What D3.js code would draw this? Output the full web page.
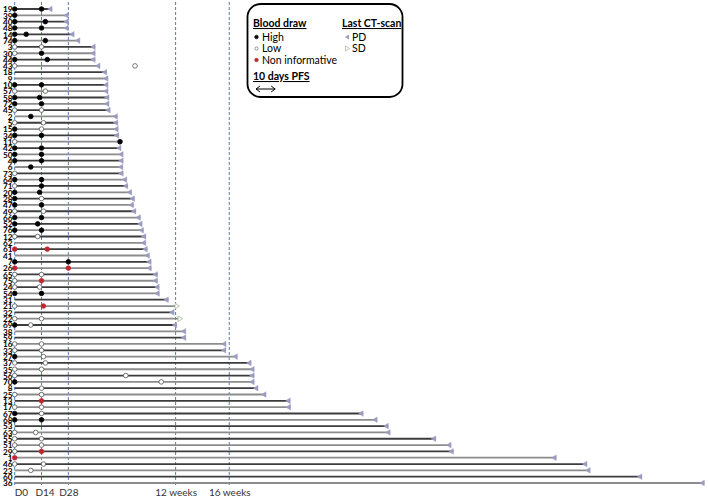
<!DOCTYPE html>
<html>
<head>
<meta charset="utf-8">
<script src="https://cdn.jsdelivr.net/npm/d3@7"></script>
<style>
  html, body { margin: 0; padding: 0; background: #fff; }
  svg { display: block; font-family: Lato, "Open Sans", sans-serif; }
</style>
</head>
<body>
<svg id="chart" width="708" height="498"></svg>
<script>
// ---- data ----
const patients = ["19","39","40","48","14","74","3","30","44","43","18","9","10","57","58","72","45","2","5","15","34","11","42","50","4","6","73","64","71","20","28","47","49","66","52","76","12","62","61","41","7","26","65","75","24","54","31","21","32","22","69","38","59","16","33","27","37","35","56","70","8","25","13","17","67","68","53","63","55","51","29","1","46","23","60","36"];
const pfsDays = [19.5,28,28,28,31,34,42,42,42,44.5,48,48.7,48.7,48.7,49.2,49.2,49.8,53.6,53.8,54,54.3,55,55.5,56.6,56.6,56.4,56.6,58.5,59,61,62.5,62,63.2,65.6,66.5,67.2,68.4,68.4,69.2,70.3,71.2,71.3,74.5,74.5,75.4,75.5,80.2,84.2,83.2,85.8,84.6,89.3,89.3,110.3,110.2,116.2,123.4,125,125,125,127,131.2,143.8,144,181.9,189.2,195,196,219.8,227.8,229,282.7,298.7,300.4,327.4,360];
const ctScan = patients.map(p => (p === "21" || p === "22") ? "SD" : "PD");
// blood draw at D0: H = high, L = low, N = non informative, "" = none
const drawD0 = ["H","H","H","H","H","H","L","L","H","L","","","H","L","H","H","L","","L","H","H","L","H","H","H","","L","H","L","H","H","H","L","H","H","H","L","","N","","H","N","L","L","L","H","","L","","L","H","","","L","L","H","L","L","L","H","","L","","L","H","H","","L","L","L","L","N","L","","",""];
// second blood draw: day and result
const draw2Day = [14,null,16,14,6,16,14,14,17,null,null,null,14,16,13,14,14,8.4,15,14,14,null,14,14,14,8.4,null,14,14,13,14,14,15,14,12,14,12,null,17,null,28,28,14,14,13,14,null,15,null,14,8.4,null,null,14,14,15,16,14,null,null,14,14,14,14,14,14,null,11,14,14,14,null,15,8.4,null,null];
const draw2Type = ["H","","H","H","H","H","L","H","H","","","","H","L","H","H","L","H","L","L","H","","H","H","H","H","","H","H","H","L","H","L","H","H","H","L","","N","","H","N","L","N","L","H","","N","","L","L","","","L","L","L","L","L","","","L","L","N","L","L","H","","L","L","L","N","","L","L","",""];
const extraDraws = [
  {p: "43", day: 62.8, type: "L"},
  {p: "11", day: 55, type: "H"},
  {p: "56", day: 58, type: "L"},
  {p: "70", day: 76.5, type: "L"}
];
const refDays = [0, 14, 28, 84, 112];
const refLabels = ["D0", "D14", "D28", "12 weeks", "16 weeks"];

// ---- build ----
const svg = d3.select("#chart");
const x = d3.scaleLinear().domain([0, 360]).range([14.7, 704.3]);
const y = d3.scalePoint().domain(patients).range([9, 483]);

const fillFor = t => t === "H" ? "#000" : t === "N" ? "#c0272d" : "#fff";
const strokeFor = t => t === "H" ? "#000" : t === "N" ? "#c0272d" : "#555";

// reference lines
svg.append("g").selectAll("line").data(refDays).join("line")
  .attr("x1", d => x(d)).attr("x2", d => x(d))
  .attr("y1", 2).attr("y2", 487)
  .attr("stroke", "#5a7bb0").attr("stroke-width", 1)
  .attr("stroke-dasharray", "3,2");

// bars
const rows = patients.map((p, i) => ({
  p, i, end: pfsDays[i], ct: ctScan[i], d0: drawD0[i], d2: draw2Day[i], t2: draw2Type[i]
}));

svg.append("g").selectAll("line").data(rows).join("line")
  .attr("x1", x(0)).attr("x2", d => x(d.end))
  .attr("y1", d => y(d.p)).attr("y2", d => y(d.p))
  .attr("stroke", d => d.i % 2 === 0 ? "#3c3c3c" : "#8c8c8c")
  .attr("stroke-width", 1.8);

// end markers
svg.append("g").selectAll("path").data(rows).join("path")
  .attr("d", d => {
    const ex = x(d.end), ey = y(d.p);
    if (d.ct === "PD") return `M${ex},${ey - 2.8}L${ex},${ey + 2.8}L${ex - 4.5},${ey}Z`;
    return `M${ex - 1},${ey - 2.8}L${ex - 1},${ey + 2.8}L${ex + 3.5},${ey}Z`;
  })
  .attr("fill", d => d.ct === "PD" ? "#9c9cc0" : "#fff")
  .attr("stroke", d => d.ct === "PD" ? "#9c9cc0" : "#a8c0a0")
  .attr("stroke-width", d => d.ct === "PD" ? 0.5 : 0.9);

// blood draws
const draws = [];
rows.forEach(r => {
  if (r.d0) draws.push({p: r.p, day: 0, type: r.d0});
  if (r.d2 != null) draws.push({p: r.p, day: r.d2, type: r.t2});
});
extraDraws.forEach(e => draws.push(e));

svg.append("g").selectAll("circle").data(draws).join("circle")
  .attr("cx", d => x(d.day)).attr("cy", d => y(d.p))
  .attr("r", 2.3)
  .attr("fill", d => fillFor(d.type))
  .attr("stroke", d => strokeFor(d.type))
  .attr("stroke-width", 0.8);

// patient labels
const yAxis = d3.axisLeft(y).tickSize(0).tickPadding(0);
const yg = svg.append("g").attr("transform", "translate(12.5,0)").call(yAxis);
yg.select(".domain").remove();
yg.selectAll("text").attr("font-family", "Lato, sans-serif").attr("font-weight", "bold")
  .attr("font-size", 8.2).attr("fill", "#000").attr("dy", "0.34em");

// x labels
const xAxis = d3.axisBottom(x).tickValues(refDays).tickSize(0).tickPadding(0)
  .tickFormat((d, i) => refLabels[i]);
const xg = svg.append("g").attr("transform", "translate(0,487)").call(xAxis);
xg.select(".domain").remove();
xg.selectAll("text").attr("font-family", "Lato, sans-serif").attr("font-size", 10)
  .attr("fill", "#333").attr("dy", "0.9em")
  .attr("text-anchor", (d, i) => i === 0 ? "start" : "middle")
  .attr("dx", (d, i) => i === 0 ? -0.5 : (i === 1 ? 3 : 0));

// legend
const lg = svg.append("g");
lg.append("rect").attr("x", 247.5).attr("y", 4).attr("width", 155).attr("height", 93)
  .attr("rx", 13).attr("ry", 13).attr("fill", "#fff").attr("stroke", "#000").attr("stroke-width", 1.8);

function heading(tx, ty, txt) {
  return lg.append("text").attr("x", tx).attr("y", ty).attr("font-size", 10.5)
    .attr("font-weight", "bold").attr("fill", "#000").attr("text-decoration", "underline").text(txt);
}
heading(253, 27, "Blood draw");
heading(342, 27, "Last CT-scan");
heading(253, 80, "10 days PFS");

const bd = [
  {label: "High", type: "H", y: 37},
  {label: "Low", type: "L", y: 48.5},
  {label: "Non informative", type: "N", y: 60}
];
bd.forEach(b => {
  lg.append("circle").attr("cx", 256.5).attr("cy", b.y).attr("r", b.type === "L" ? 1.6 : 1.8)
    .attr("fill", fillFor(b.type)).attr("stroke", strokeFor(b.type)).attr("stroke-width", 0.6);
  lg.append("text").attr("x", 262).attr("y", b.y + 3.6).attr("font-size", 10.5).attr("fill", "#000").text(b.label);
});
// CT legend
lg.append("path").attr("d", "M349,34.5L349,39.5L345,37Z").attr("fill", "#9c9cc0");
lg.append("text").attr("x", 352).attr("y", 40.6).attr("font-size", 10.5).attr("fill", "#000").text("PD");
lg.append("path").attr("d", "M345.5,46L345.5,51L349.5,48.5Z").attr("fill", "#fff").attr("stroke", "#a8c0a0").attr("stroke-width", 0.8);
lg.append("text").attr("x", 352).attr("y", 52.1).attr("font-size", 10.5).attr("fill", "#000").text("SD");
// double arrow (10 days)
const ax0 = 256, ax1 = 256 + 10 * (x(1) - x(0));
lg.append("path").attr("d", `M${ax0},89L${ax1},89M${ax0 + 4},86L${ax0},89L${ax0 + 4},92M${ax1 - 4},86L${ax1},89L${ax1 - 4},92`)
  .attr("fill", "none").attr("stroke", "#000").attr("stroke-width", 1);
</script>
</body>
</html>
